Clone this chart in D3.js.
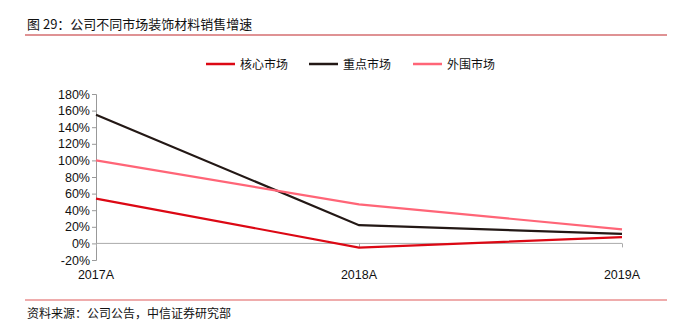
<!DOCTYPE html>
<html><head><meta charset="utf-8">
<script src="https://cdn.jsdelivr.net/npm/d3@7"></script>
<style>body{margin:0;background:#fff}svg{display:block}</style>
</head><body><svg id="c" width="692" height="330"></svg>
<script>
const categories = ["2017A","2018A","2019A"];
const seriesNames = ["核心市场","重点市场","外围市场"];
const core = [54, -5, 7.5];
const key = [155, 22, 11.5];
const outer = [100, 47, 17];
const yTicks = [-20,0,20,40,60,80,100,120,140,160,180];
const colors = ["#dc0814","#231815","#ff6577"];
const series = [core, key, outer];

const svg = d3.select("#c");
const font = "'Liberation Sans', Arial, 'Noto Sans CJK SC', sans-serif";
const cjk = "'Noto Sans CJK SC', sans-serif";

svg.append("text").attr("x",27).attr("y",29).attr("font-family",cjk).attr("font-size",13).attr("fill","#111").text("图 29：公司不同市场装饰材料销售增速");
svg.append("line").attr("x1",25).attr("x2",667).attr("y1",35).attr("y2",35).attr("stroke","#c0262b").attr("stroke-width",1.2);
svg.append("line").attr("x1",25).attr("x2",667).attr("y1",300).attr("y2",300).attr("stroke","#e05a5a").attr("stroke-width",1.2);
svg.append("text").attr("x",27).attr("y",318).attr("font-family",cjk).attr("font-size",12).attr("fill","#111").text("资料来源：公司公告，中信证券研究部");

const x = d3.scalePoint().domain(categories).range([96,622]);
const y = d3.scaleLinear().domain([-20,180]).range([260,94]);

// y axis
const ya = svg.append("g").attr("transform","translate(96,0)")
  .call(d3.axisLeft(y).tickValues(yTicks).tickSize(4).tickFormat(d=>d+"%"));
ya.selectAll("path,line").attr("stroke","#999");
ya.selectAll("text").attr("font-family",font).attr("font-size",12.5).attr("fill","#111").attr("x",-6);

// x axis at zero
const xa = svg.append("g").attr("transform",`translate(0,${y(0)})`)
  .call(d3.axisBottom(x).tickSize(4).tickFormat(""));
xa.select("path").attr("stroke","#aaa").attr("d",`M96,0H622`);
xa.selectAll("line").attr("stroke","#aaa");
svg.append("g").selectAll("text").data(categories).join("text")
  .attr("x",d=>x(d)).attr("y",279).attr("text-anchor","middle")
  .attr("font-family",font).attr("font-size",12.5).attr("fill","#111").text(d=>d);

const line = d3.line().x((d,i)=>x(categories[i])).y(d=>y(d));
[1,2,0].forEach(k=>{
  svg.append("path").attr("d",line(series[k])).attr("fill","none")
    .attr("stroke",colors[k]).attr("stroke-width",2.2).attr("stroke-linejoin","miter");
});

// legend
const lx = [206,309,413];
seriesNames.forEach((n,i)=>{
  svg.append("line").attr("x1",lx[i]).attr("x2",lx[i]+29).attr("y1",64).attr("y2",64).attr("stroke",colors[i]).attr("stroke-width",2.5);
  svg.append("text").attr("x",lx[i]+34).attr("y",68.5).attr("font-family",cjk).attr("font-size",12).attr("fill","#111").text(n);
});
</script></body></html>
